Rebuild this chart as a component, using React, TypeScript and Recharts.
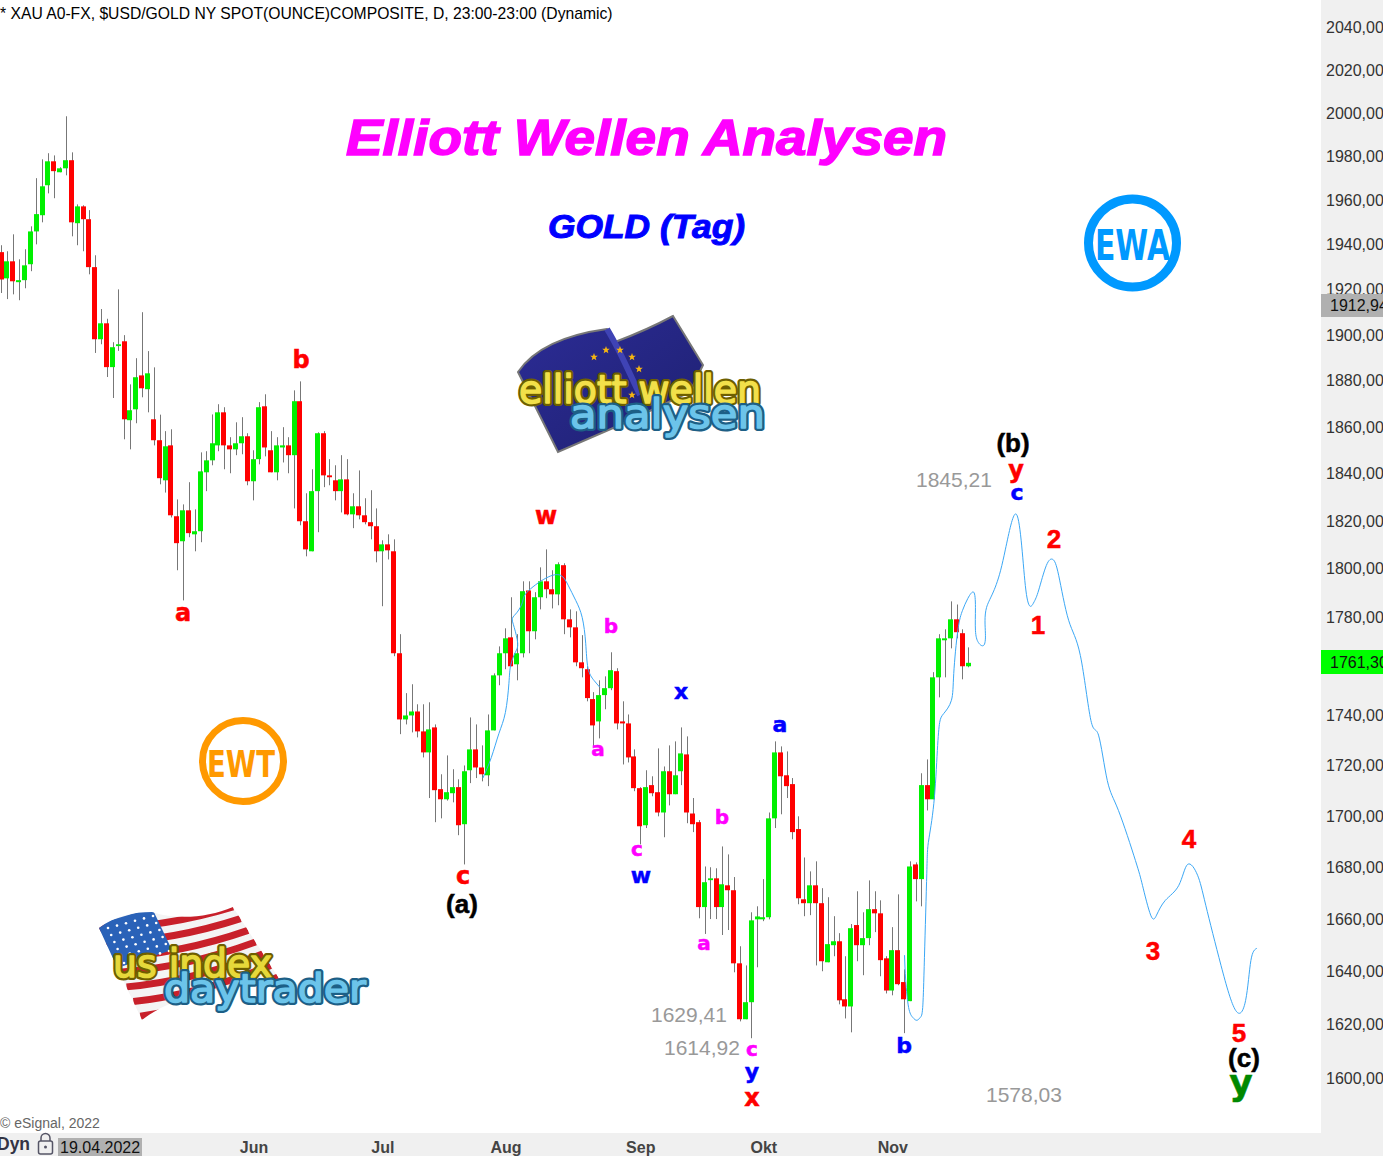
import { Bar, Cell, ComposedChart, Line, XAxis, YAxis } from 'recharts';

const opens = [
  1936.7, 1925.0, 1932.6, 1923.3, 1924.2, 1931.3, 1946.0, 1953.3, 1966.9, 1977.8,
  1972.8, 1974.6, 1978.3, 1949.7, 1957.3, 1951.5, 1930.0, 1898.1, 1905.1, 1885.9,
  1895.1, 1897.2, 1862.9, 1867.6, 1882.3, 1876.3, 1863.3, 1854.3, 1837.2, 1852.1,
  1822.0, 1811.5, 1824.5, 1814.4, 1815.7, 1840.6, 1845.7, 1852.1, 1866.3, 1852.1,
  1850.4, 1853.0, 1856.0, 1836.8, 1846.2, 1868.9, 1850.0, 1840.6, 1851.2, 1852.1,
  1847.9, 1871.1, 1819.9, 1807.3, 1832.6, 1857.3, 1839.3, 1837.2, 1832.6, 1837.6,
  1822.8, 1826.2, 1822.4, 1819.5, 1817.8, 1807.3, 1810.2, 1807.3, 1765.2, 1738.4,
  1740.0, 1741.6, 1733.6, 1725.2, 1735.2, 1710.6, 1706.6, 1709.0, 1711.4, 1696.8,
  1718.1, 1726.4, 1719.2, 1716.1, 1734.0, 1756.2, 1765.2, 1771.7, 1760.7, 1765.2,
  1791.0, 1774.2, 1788.2, 1794.8, 1791.5, 1789.4, 1801.5, 1779.1, 1775.8, 1761.5,
  1758.7, 1746.6, 1737.6, 1748.2, 1751.0, 1757.9, 1737.6, 1736.8, 1723.6, 1711.0,
  1696.4, 1712.2, 1709.4, 1701.4, 1717.7, 1708.6, 1717.7, 1724.4, 1701.0, 1697.6,
  1664.6, 1675.0, 1675.7, 1664.6, 1673.0, 1671.1, 1643.1, 1622.0, 1628.4, 1659.9,
  1659.9, 1660.7, 1699.1, 1725.2, 1716.1, 1712.6, 1694.9, 1667.6, 1666.1, 1673.0,
  1666.1, 1643.5, 1650.0, 1651.5, 1629.5, 1626.8, 1657.7, 1650.0, 1652.7, 1663.8,
  1662.2, 1645.0, 1632.8, 1648.1, 1636.0, 1628.8, 1681.1, 1675.4, 1712.2, 1706.6,
  1755.4, 1770.5, 1771.3, 1779.1, 1773.4, 1759.9,
];

const highs = [
  1939.8, 1937.1, 1944.7, 1933.5, 1938.0, 1948.3, 1970.1, 1978.7, 1981.5, 1980.5,
  1975.1, 1998.5, 1981.9, 1958.2, 1957.8, 1955.6, 1935.3, 1911.4, 1907.1, 1896.8,
  1920.1, 1899.9, 1878.4, 1889.8, 1910.0, 1892.9, 1885.8, 1865.3, 1858.2, 1859.0,
  1829.1, 1827.0, 1836.4, 1824.9, 1849.1, 1849.6, 1865.4, 1869.8, 1868.5, 1855.6,
  1862.0, 1864.2, 1857.3, 1850.0, 1870.7, 1874.1, 1858.2, 1855.6, 1859.9, 1855.6,
  1875.8, 1879.7, 1831.7, 1841.9, 1857.7, 1858.2, 1846.2, 1843.6, 1847.9, 1846.2,
  1831.7, 1841.4, 1829.6, 1833.0, 1825.3, 1811.9, 1814.4, 1812.3, 1773.0, 1749.0,
  1752.6, 1744.5, 1744.5, 1745.3, 1736.4, 1716.5, 1724.0, 1718.5, 1714.5, 1720.0,
  1739.2, 1736.4, 1728.0, 1740.4, 1757.0, 1768.0, 1775.4, 1788.2, 1773.0, 1794.8,
  1794.8, 1790.3, 1800.6, 1808.1, 1799.4, 1802.7, 1802.3, 1783.2, 1782.4, 1772.6,
  1759.9, 1749.4, 1754.2, 1755.8, 1765.6, 1759.1, 1745.7, 1740.4, 1726.4, 1711.4,
  1718.1, 1715.7, 1726.8, 1719.6, 1728.0, 1729.6, 1735.2, 1731.6, 1707.1, 1698.4,
  1680.3, 1680.0, 1679.6, 1688.1, 1685.0, 1676.2, 1649.6, 1642.3, 1662.6, 1664.9,
  1675.4, 1701.4, 1729.6, 1727.6, 1725.6, 1715.0, 1699.9, 1683.8, 1678.4, 1682.3,
  1671.9, 1668.4, 1661.1, 1654.6, 1645.8, 1658.1, 1670.7, 1662.6, 1674.9, 1670.7,
  1667.2, 1645.8, 1656.9, 1669.5, 1640.8, 1682.3, 1681.9, 1716.9, 1722.4, 1757.5,
  1773.0, 1775.0, 1786.5, 1785.2, 1775.0, 1767.6,
];

const lows = [
  1918.5, 1915.8, 1917.9, 1915.3, 1920.6, 1928.2, 1940.2, 1950.1, 1963.2, 1961.0,
  1972.8, 1971.4, 1943.8, 1939.8, 1937.1, 1926.8, 1892.1, 1895.9, 1881.6, 1872.5,
  1893.0, 1854.7, 1850.4, 1861.6, 1872.8, 1866.3, 1852.1, 1835.5, 1832.0, 1821.5,
  1799.4, 1786.9, 1813.2, 1807.3, 1811.1, 1832.6, 1843.6, 1849.6, 1841.9, 1840.2,
  1847.9, 1848.3, 1835.1, 1828.7, 1844.0, 1847.4, 1840.6, 1837.2, 1844.8, 1840.2,
  1825.3, 1818.2, 1805.2, 1807.3, 1815.3, 1834.3, 1835.1, 1828.7, 1823.6, 1822.4,
  1817.0, 1820.7, 1818.6, 1812.3, 1802.7, 1784.5, 1803.9, 1764.0, 1732.5, 1736.4,
  1733.2, 1731.2, 1723.2, 1707.1, 1697.6, 1699.1, 1706.1, 1705.4, 1692.5, 1681.1,
  1713.0, 1715.0, 1713.7, 1711.8, 1734.0, 1752.2, 1758.7, 1759.9, 1754.2, 1763.5,
  1765.2, 1770.9, 1783.2, 1787.8, 1783.6, 1784.9, 1773.0, 1771.7, 1759.9, 1755.4,
  1745.7, 1727.6, 1730.8, 1742.5, 1750.2, 1734.4, 1720.4, 1721.2, 1709.8, 1688.9,
  1695.3, 1707.8, 1699.9, 1691.7, 1704.2, 1708.6, 1712.2, 1697.2, 1693.7, 1660.3,
  1654.3, 1660.0, 1660.0, 1653.9, 1655.8, 1639.7, 1621.2, 1622.0, 1614.9, 1641.6,
  1659.2, 1659.9, 1695.3, 1700.7, 1707.1, 1690.9, 1665.7, 1661.1, 1661.5, 1642.3,
  1640.1, 1643.5, 1645.8, 1627.6, 1622.3, 1617.1, 1643.9, 1638.6, 1650.0, 1655.0,
  1638.2, 1631.7, 1631.0, 1634.8, 1616.8, 1628.8, 1666.8, 1664.9, 1702.2, 1706.6,
  1747.3, 1755.4, 1767.2, 1771.3, 1754.6, 1759.5,
];

const closes = [
  1924.5, 1932.6, 1923.7, 1924.2, 1930.8, 1946.0, 1953.8, 1966.4, 1977.8, 1973.3,
  1974.6, 1978.3, 1950.1, 1957.3, 1951.5, 1930.0, 1898.1, 1905.1, 1885.9, 1894.6,
  1895.9, 1863.3, 1867.2, 1881.5, 1876.7, 1883.2, 1854.3, 1838.1, 1851.7, 1822.4,
  1810.7, 1824.5, 1814.9, 1815.7, 1841.0, 1845.7, 1853.0, 1866.3, 1852.1, 1850.4,
  1853.0, 1856.0, 1836.8, 1846.2, 1868.5, 1851.2, 1840.6, 1852.1, 1852.1, 1847.9,
  1871.1, 1819.9, 1808.1, 1832.6, 1857.3, 1839.3, 1838.5, 1832.6, 1837.6, 1822.8,
  1826.2, 1822.4, 1819.5, 1817.8, 1807.3, 1810.2, 1807.7, 1765.2, 1738.4, 1740.0,
  1741.6, 1733.6, 1725.2, 1734.4, 1710.2, 1706.6, 1709.4, 1711.4, 1696.4, 1717.7,
  1726.4, 1719.2, 1716.5, 1734.0, 1756.2, 1765.2, 1771.3, 1759.9, 1765.2, 1790.7,
  1774.2, 1788.2, 1794.8, 1791.5, 1789.4, 1801.9, 1779.1, 1775.8, 1761.5, 1759.1,
  1747.0, 1736.0, 1748.2, 1751.0, 1758.3, 1736.8, 1736.8, 1723.2, 1711.0, 1696.0,
  1711.4, 1709.0, 1701.4, 1717.7, 1708.6, 1716.1, 1724.8, 1701.4, 1696.8, 1664.6,
  1674.2, 1675.7, 1664.6, 1673.4, 1671.1, 1643.1, 1622.0, 1628.4, 1659.5, 1661.0,
  1660.7, 1699.1, 1725.2, 1715.7, 1711.8, 1693.7, 1668.0, 1666.1, 1673.0, 1666.1,
  1643.9, 1650.4, 1651.5, 1629.1, 1626.8, 1656.5, 1650.0, 1652.7, 1663.8, 1662.2,
  1644.3, 1632.8, 1648.1, 1635.2, 1629.5, 1680.3, 1675.4, 1712.2, 1706.6, 1755.4,
  1771.3, 1771.3, 1779.1, 1773.8, 1759.9, 1761.3,
];

// blue wave sketches: [bar index, price], in drawing order because they double back
const waveOld = [
  [82.06, 1715.0], [83.5, 1723.2], [84.8, 1732.8], [85.9, 1741.2], [86.5, 1753.0], [86.8, 1760.3],
  [87.6, 1765.6], [88.0, 1769.3], [87.4, 1775.8], [87.1, 1779.5], [87.9, 1782.0], [88.8, 1786.1],
  [89.6, 1790.3], [92.8, 1796.1], [95.3, 1797.3], [96.6, 1793.2], [97.9, 1786.9], [99.0, 1779.9],
  [99.6, 1769.3], [100.0, 1759.1], [101.0, 1754.2], [102.0, 1751.4],
];

const waveNew = [
  [154.0, 1646.2], [154.2, 1636.7], [154.7, 1626.4], [155.4, 1622.7], [156.1, 1621.6], [156.7, 1622.7],
  [157.1, 1626.4], [157.4, 1645.4], [157.8, 1677.7], [158.1, 1690.2], [159.0, 1705.0], [159.6, 1725.9],
  [160.0, 1737.2], [160.7, 1740.8], [162.0, 1746.1], [162.4, 1757.0], [163.1, 1774.6], [163.9, 1782.8],
  [164.8, 1787.7], [165.8, 1790.3], [166.1, 1784.0], [166.1, 1774.6], [166.6, 1769.6], [167.5, 1768.4],
  [167.8, 1773.4], [168.0, 1784.0], [170.4, 1799.4], [173.1, 1822.8], [174.7, 1791.2], [176.0, 1785.8],
  [176.9, 1791.2], [178.2, 1801.4], [179.3, 1803.9], [180.3, 1797.3], [182.0, 1778.7], [184.0, 1764.3],
  [185.8, 1738.0], [187.1, 1732.1], [188.6, 1714.0], [190.5, 1702.2], [193.4, 1682.6], [194.6, 1673.0],
  [196.0, 1661.5], [197.0, 1661.5], [198.5, 1667.2], [200.8, 1673.0], [202.3, 1681.1], [204.0, 1676.9],
  [205.4, 1665.3], [208.0, 1642.3], [210.5, 1625.3], [212.2, 1629.1], [213.1, 1644.2], [214.1, 1648.8],
];

const priceTicks = [
  1600, 1620, 1640, 1660, 1680, 1700, 1720, 1740, 1760, 1780, 1800, 1820,
  1840, 1860, 1880, 1900, 1920, 1940, 1960, 1980, 2000, 2020, 2040,
];

const monthTicks = [43, 65, 86, 109, 130, 152];
const monthNames = ['Jun', 'Jul', 'Aug', 'Sep', 'Okt', 'Nov'];

const rows = opens.map((o, i) => ({
  i,
  wick: [lows[i], highs[i]],
  body: [Math.min(o, closes[i]), Math.max(o, closes[i])],
  up: closes[i] >= o,
}));

const toPoints = (pts: number[][]) => pts.map(([i, v]) => ({ i, v }));

const indexDomain = [-0.3327, 225.06];
const SANS = '"Liberation Sans", Arial, sans-serif';

// snap to whole pixels so the wick always sits in the middle of its 5px body
const WickShape = ({ x, y, height }: any) => (
  <rect x={Math.floor(x)} y={y} width={1} height={height} fill="#777777" />
);
const BodyShape = ({ x, y, height, fill }: any) => (
  <rect x={Math.floor(x + 2) - 2} y={y} width={5} height={Math.max(height, 1)} fill={fill} />
);

function Note({ x, y, c, s = 24, f = '"DejaVu Sans"', children }: any) {
  return (
    <text
      x={x}
      y={y}
      fill={c}
      stroke={c}
      strokeWidth={0.5}
      fontSize={s}
      fontFamily={f}
      fontWeight="bold"
      textAnchor="middle"
      dominantBaseline="central"
    >
      {children}
    </text>
  );
}

function Gray({ x, y, children }: any) {
  return (
    <text x={x} y={y} fill="#999999" fontSize={21} fontFamily={SANS}>
      {children}
    </text>
  );
}

function Star({ x, y, r = 4 }: any) {
  const p = [];
  for (let k = 0; k < 10; k++) {
    const a = (Math.PI / 5) * k - Math.PI / 2;
    const d = k % 2 ? r * 0.42 : r;
    p.push(`${x + d * Math.cos(a)},${y + d * Math.sin(a)}`);
  }
  return <polygon points={p.join(' ')} fill="#f5b511" />;
}

function LogoText({ x, y, w, s, fill, dark, children }: any) {
  const base = {
    x,
    y,
    textLength: w,
    lengthAdjust: 'spacingAndGlyphs',
    fontFamily: '"DejaVu Sans"',
    fontSize: s,
    strokeLinejoin: 'round',
  } as any;
  return (
    <g>
      <text {...base} fill={dark} stroke={dark} strokeWidth={6}>{children}</text>
      <text {...base} fill={fill} stroke={fill} strokeWidth={1.5}>{children}</text>
    </g>
  );
}

function EuLogo() {
  return (
    <g>
      <defs>
        <linearGradient id="euBlue" x1="0" y1="0" x2="1" y2="1">
          <stop offset="0%" stopColor="#2c2c96" />
          <stop offset="100%" stopColor="#1e2070" />
        </linearGradient>
      </defs>
      <path
        d="M518 372 C533 350 563 335 607 329 L615 342 C647 330 673 316 673 316 L703 365 L690 392 L620 425 L558 452 L537 410 Z"
        fill="url(#euBlue)"
        stroke="#777777"
        strokeWidth={2}
      />
      <path d="M607 329 C620 350 630 375 640 395" fill="none" stroke="#3f43b5" strokeWidth={6} />
      <Star x={606} y={350} />
      <Star x={620} y={350} />
      <Star x={632} y={357} />
      <Star x={594} y={357} />
      <Star x={639} y={369} />
      <Star x={632} y={395} />
      <LogoText x={519} y={403} w={242} s={39} fill="#f2e04a" dark="#6e5f00">elliott wellen</LogoText>
      <LogoText x={570} y={428} w={195} s={41} fill="#6cc4ea" dark="#1d5f86">analysen</LogoText>
    </g>
  );
}

function UsLogo() {
  const stripes = [0, 2, 4, 6, 8, 10, 12];
  const stars = [];
  for (let r = 0; r < 6; r++) {
    for (let c = 0; c < 6; c++) {
      stars.push(<circle key={`${r}-${c}`} cx={108 + c * 9 + r * 3.2} cy={928 - c * 2.4 + r * 7} r={1.3} fill="#ffffff" />);
    }
  }
  return (
    <g>
      <defs>
        <clipPath id="usFlag">
          <path d="M99 928 C117 915 133 912 152 912 C177 920 207 918 233 907 L280 980 C223 988 173 995 142 1020 L123 980 Z" />
        </clipPath>
      </defs>
      <g clipPath="url(#usFlag)">
        <rect x={95} y={900} width={190} height={125} fill="#f4f4f4" />
        {stripes.map((k) => {
          const t = k / 12.5;
          const lx = 99 + 43 * t;
          const ly = 928 + 92 * t;
          const rx = 233 + 47 * t;
          const ry = 907 + 73 * t;
          return (
            <path
              key={k}
              d={`M${lx} ${ly} Q${(lx + rx) / 2} ${(ly + ry) / 2 + 10} ${rx} ${ry}`}
              fill="none"
              stroke="#c8202a"
              strokeWidth={7}
            />
          );
        })}
        <polygon points="95,925 152,908 172,950 117,968" fill="#2a62b8" />
        {stars}
      </g>
      <LogoText x={113} y={977} w={159} s={39} fill="#e6d83a" dark="#6e5f00">us index</LogoText>
      <LogoText x={164} y={1002} w={202} s={39} fill="#6cc4ea" dark="#1d5f86">daytrader</LogoText>
    </g>
  );
}

function Overlay() {
  return (
    <svg width={1383} height={1156} style={{ position: 'absolute', left: 0, top: 0 }}>
      <text x={0} y={19} fontSize={15.7} fontFamily={SANS} fill="#000000">
        * XAU A0-FX, $USD/GOLD NY SPOT(OUNCE)COMPOSITE, D, 23:00-23:00 (Dynamic)
      </text>
      <text
        x={346}
        y={155}
        fontSize={50}
        textLength={601}
        lengthAdjust="spacingAndGlyphs"
        fontFamily={SANS}
        fontWeight="bold"
        fontStyle="italic"
        fill="#ff00ff"
        stroke="#ff00ff"
        strokeWidth={1.5}
      >
        Elliott Wellen Analysen
      </text>
      <text
        x={548}
        y={238}
        fontSize={33}
        textLength={197}
        lengthAdjust="spacingAndGlyphs"
        fontFamily={SANS}
        fontWeight="bold"
        fontStyle="italic"
        fill="#0000ff"
        stroke="#0000ff"
        strokeWidth={1}
      >
        GOLD (Tag)
      </text>

      <circle cx={1132.5} cy={243} r={44} fill="none" stroke="#0099ff" strokeWidth={9} />
      <text x={1095} y={260} textLength={75} lengthAdjust="spacingAndGlyphs" fontSize={42} fontFamily='"DejaVu Sans"' fontWeight="bold" fill="#0099ff">
        EWA
      </text>
      <circle cx={243} cy={761} r={40.5} fill="none" stroke="#ff9900" strokeWidth={7} />
      <text x={207} y={777} textLength={68} lengthAdjust="spacingAndGlyphs" fontSize={38} fontFamily='"DejaVu Sans"' fontWeight="bold" fill="#ff9900">
        EWT
      </text>

      <EuLogo />
      <UsLogo />

      <Note x={301} y={360} c="#ff0000">b</Note>
      <Note x={183} y={613} c="#ff0000">a</Note>
      <Note x={546} y={516} c="#ff0000">w</Note>
      <Note x={463} y={876} c="#ff0000">c</Note>
      <Note x={611} y={626} c="#ff00ff" s={20}>b</Note>
      <Note x={598} y={749} c="#ff00ff" s={20}>a</Note>
      <Note x={681} y={691} c="#0000ff" s={22}>x</Note>
      <Note x={637} y={849} c="#ff00ff" s={20}>c</Note>
      <Note x={641} y={875} c="#0000ff" s={22}>w</Note>
      <Note x={722} y={817} c="#ff00ff" s={20}>b</Note>
      <Note x={704} y={943} c="#ff00ff" s={20}>a</Note>
      <Note x={780} y={724} c="#0000ff" s={22}>a</Note>
      <Note x={904} y={1045} c="#0000ff" s={22}>b</Note>
      <Note x={752} y={1049} c="#ff00ff" s={20}>c</Note>
      <Note x={752} y={1071} c="#0000ff" s={22}>y</Note>
      <Note x={752} y={1098} c="#ff0000">x</Note>
      <Note x={1016} y={470} c="#ff0000">y</Note>
      <Note x={1017} y={492} c="#0000ff" s={22}>c</Note>
      <Note x={462} y={904} c="#000000" s={26} f={SANS}>(a)</Note>
      <Note x={1013} y={443} c="#000000" s={26} f={SANS}>(b)</Note>
      <Note x={1244} y={1058} c="#000000" s={26} f={SANS}>(c)</Note>
      <Note x={1038} y={625} c="#ff0000" s={26} f={SANS}>1</Note>
      <Note x={1054} y={539} c="#ff0000" s={26} f={SANS}>2</Note>
      <Note x={1153} y={951} c="#ff0000" s={26} f={SANS}>3</Note>
      <Note x={1189} y={839} c="#ff0000" s={26} f={SANS}>4</Note>
      <Note x={1239} y={1033} c="#ff0000" s={26} f={SANS}>5</Note>
      <Note x={1241} y={1082} c="#008800" s={36}>y</Note>

      <Gray x={916} y={487}>1845,21</Gray>
      <Gray x={651} y={1022}>1629,41</Gray>
      <Gray x={664} y={1055}>1614,92</Gray>
      <Gray x={986} y={1102}>1578,03</Gray>

      <rect x={1321} y={294} width={62} height={23} fill="#b0b0b0" />
      <text x={1330} y={311} fontSize={16} fontFamily={SANS} fill="#111111">1912,94</text>
      <rect x={1321} y={650} width={62} height={24} fill="#00ff00" />
      <text x={1330} y={668} fontSize={16} fontFamily={SANS} fill="#111111">1761,30</text>

      <text x={0} y={1128} fontSize={14} fontFamily={SANS} fill="#666666">© eSignal, 2022</text>
      <text x={-3} y={1150} fontSize={17.5} fontFamily={SANS} fontWeight="bold" fill="#333344">Dyn</text>
      <rect x={38.5} y={1141} width={14} height={13} rx={2} fill="none" stroke="#555566" strokeWidth={1.5} />
      <path d="M41 1141 v-3 a4.5 4.5 0 0 1 9 0 v3" fill="none" stroke="#555566" strokeWidth={1.5} />
      <circle cx={45.5} cy={1147} r={1.5} fill="#555566" />
      <rect x={58} y={1138} width={84} height={18} fill="#b0b0b0" />
      <text x={60} y={1153} fontSize={16} fontFamily={SANS} fill="#111111">19.04.2022</text>
    </svg>
  );
}

export default function App() {
  return (
    <div style={{ position: 'absolute', left: 0, top: 0, width: 1383, height: 1156, overflow: 'hidden', background: '#ffffff' }}>
      <div style={{ position: 'absolute', left: 1321, top: 0, width: 62, height: 1156, background: '#f0f0f0' }} />
      <div style={{ position: 'absolute', left: 0, top: 1133, width: 1383, height: 23, background: '#f0f0f0' }} />
      <div style={{ position: 'absolute', left: 0, top: 0 }}>
        <ComposedChart width={1383} height={1156} data={rows} margin={{ top: 0, right: 0, bottom: 0, left: 0 }}>
          <XAxis
            xAxisId="w"
            type="number"
            dataKey="i"
            domain={indexDomain}
            allowDataOverflow
            ticks={monthTicks}
            interval={0}
            tickFormatter={(v) => monthNames[monthTicks.indexOf(v)]}
            height={23}
            axisLine={false}
            tickLine={false}
            tickSize={0}
            tickMargin={9}
            tick={{ fontSize: 16, fontWeight: 'bold', fontFamily: SANS, fill: '#444444' }}
          />
          <XAxis xAxisId="b" type="number" dataKey="i" domain={indexDomain} allowDataOverflow hide height={0} />
          <YAxis
            orientation="right"
            scale="log"
            domain={[1579.9, 2052.94]}
            allowDataOverflow
            ticks={priceTicks}
            interval={0}
            width={62}
            axisLine={false}
            tickLine={false}
            tickSize={0}
            tickMargin={5}
            tickFormatter={(v) => `${v},00`}
            tick={{ fontSize: 16, fontFamily: SANS, fill: '#333333' }}
          />
          <Line xAxisId="w" data={toPoints(waveOld)} dataKey="v" type="natural" stroke="#3ba7f5" strokeWidth={1} dot={false} isAnimationActive={false} />
          <Line xAxisId="w" data={toPoints(waveNew)} dataKey="v" type="natural" stroke="#3ba7f5" strokeWidth={1} dot={false} isAnimationActive={false} />
          <Bar xAxisId="w" dataKey="wick" barSize={1} shape={WickShape} isAnimationActive={false} />
          <Bar xAxisId="b" dataKey="body" barSize={5} shape={BodyShape} isAnimationActive={false}>
            {rows.map((r) => (
              <Cell key={r.i} fill={r.up ? '#00f000' : '#ff0000'} />
            ))}
          </Bar>
        </ComposedChart>
      </div>
      <Overlay />
    </div>
  );
}
